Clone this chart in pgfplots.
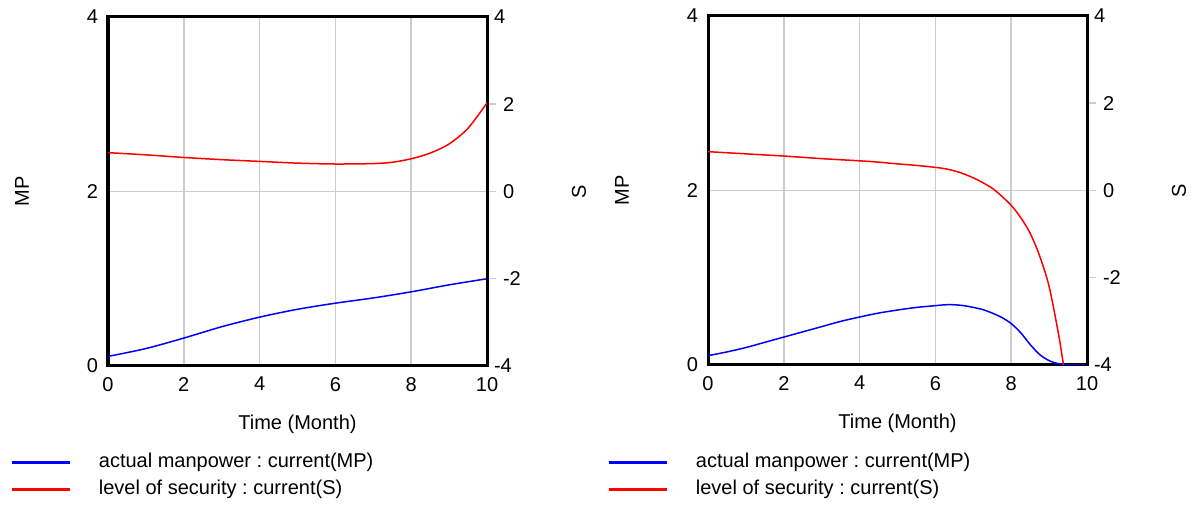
\documentclass[border=0pt]{standalone}
\usepackage{fontspec}
\setmainfont{Liberation Sans}
\usepackage{pgfplots}
\pgfplotsset{compat=1.18}
\frenchspacing
\definecolor{gridgray}{RGB}{204,204,204}
\pgfplotsset{
  panelbase/.style={
    scale only axis, width=189.5pt, height=174.5pt,
    xmin=0, xmax=10,
    /pgf/number format/assume math mode=true,
    ticklabel style={font=\fontsize{10}{12}\selectfont},
    label style={font=\fontsize{10}{12}\selectfont},
  },
  mpaxis/.style={
    panelbase,
    ymin=0, ymax=4,
    xtick={0,2,4,6,8,10}, ytick={0,2,4},
    xtick pos=bottom, ytick pos=left,
    major tick length=0pt,
    xmajorgrids, ymajorgrids,
    grid style={gridgray, line width=0.75pt},
    axis line style={line width=1.5pt},
    xticklabel style={yshift=-2pt},
    yticklabel style={xshift=-1.5pt},
    ylabel={MP}, xlabel={Time (Month)},
    every axis y label/.style={at={(axis description cs:0,0.5)}, xshift=-43pt, rotate=90, anchor=center},
    every axis x label/.style={at={(axis description cs:0.5,0)}, yshift=-29pt, anchor=center},
    legend cell align=left,
    legend image code/.code={\draw[#1, line width=1.25pt] (0pt,0pt) -- (29pt,0pt);},
  },
  saxis/.style={
    panelbase,
    ymin=-4, ymax=4,
    clip mode=individual,
    axis x line=none, axis y line*=right,
    ytick={-2,0,2},
    extra y ticks={-4,4}, extra tick style={major tick length=0pt},
    tick align=outside, major tick length=4.5pt,
    tick style={gridgray, line width=0.75pt},
    axis line style={line width=1.5pt, black},
    yticklabel style={anchor=west},
  },
}
\begin{document}
\begin{tikzpicture}[x=1pt,y=1pt]
\path (0,0) rectangle (601.5,253.5);
% ---------- left panel ----------
\begin{axis}[mpaxis, at={(54pt,70.5pt)}, anchor=south west,
  legend style={at={(axis description cs:-0.2586,-0.2464)}, anchor=north west,
    draw=none, fill=none, inner sep=0pt, row sep=3.5pt,
    font=\fontsize{10}{12}\selectfont,
    nodes={inner sep=0pt, text height=7.5pt, text depth=2.5pt},
    /tikz/every odd column/.append style={column sep=14pt}}]
\addplot[blue, line width=0.75pt, smooth] coordinates {
(0,0.11) (1,0.20) (2,0.32) (3,0.45) (4,0.56) (5,0.65) (6,0.72) (7,0.78) (8,0.85) (9,0.93) (10,1.0)};
\addlegendentry{actual manpower : current(MP)}
\addlegendimage{red}
\addlegendentry{level of security : current(S)}
\end{axis}
\begin{axis}[saxis, at={(54pt,70.5pt)}, anchor=south west]
\addplot[red, line width=0.75pt, smooth] coordinates {
(0,0.89) (1,0.84) (2,0.78) (3,0.73) (4,0.69) (5,0.65) (6,0.63) (7,0.64) (7.5,0.67) (8,0.75) (8.5,0.88) (9,1.09) (9.5,1.45) (10,2.03)};
\node[xshift=46pt, rotate=90, anchor=center, font=\fontsize{10}{12}\selectfont] at (rel axis cs:1,0.5) {S};
\end{axis}
% ---------- right panel ----------
\begin{axis}[mpaxis, at={(354pt,71pt)}, anchor=south west,
  legend style={at={(axis description cs:-0.2665,-0.2493)}, anchor=north west,
    draw=none, fill=none, inner sep=0pt, row sep=3.5pt,
    font=\fontsize{10}{12}\selectfont,
    nodes={inner sep=0pt, text height=7.5pt, text depth=2.5pt},
    /tikz/every odd column/.append style={column sep=14pt}}]
\addplot[blue, line width=0.75pt, smooth] coordinates {
(0,0.107) (0.5,0.15) (1,0.20) (1.5,0.26) (2,0.32) (2.5,0.38) (3,0.44) (3.5,0.50) (4,0.55) (4.5,0.595) (5,0.63) (5.5,0.66) (6,0.68) (6.25,0.69) (6.5,0.69) (6.75,0.68) (7,0.66) (7.25,0.635) (7.5,0.595) (7.75,0.545) (8,0.475) (8.25,0.37) (8.5,0.235) (8.75,0.12) (9,0.05) (9.25,0.015) (9.5,0.003) (9.75,0.0) (10,0.0)};
\addlegendentry{actual manpower : current(MP)}
\addlegendimage{red}
\addlegendentry{level of security : current(S)}
\end{axis}
\begin{axis}[saxis, at={(354pt,71pt)}, anchor=south west]
\addplot[red, line width=0.75pt, smooth] coordinates {
(0,0.89) (0.5,0.865) (1,0.84) (1.5,0.815) (2,0.79) (2.5,0.76) (3,0.73) (3.5,0.705) (4,0.68) (4.5,0.65) (5,0.61) (5.5,0.575) (6,0.53) (6.25,0.50) (6.5,0.45) (6.75,0.38) (7,0.29) (7.25,0.18) (7.5,0.05) (7.75,-0.13) (8,-0.34) (8.25,-0.62) (8.5,-0.98) (8.75,-1.5) (9,-2.2) (9.25,-3.3) (9.38,-4.0) (9.5,-4.6)};
\node[xshift=46pt, rotate=90, anchor=center, font=\fontsize{10}{12}\selectfont] at (rel axis cs:1,0.5) {S};
\end{axis}
\end{tikzpicture}
\end{document}
